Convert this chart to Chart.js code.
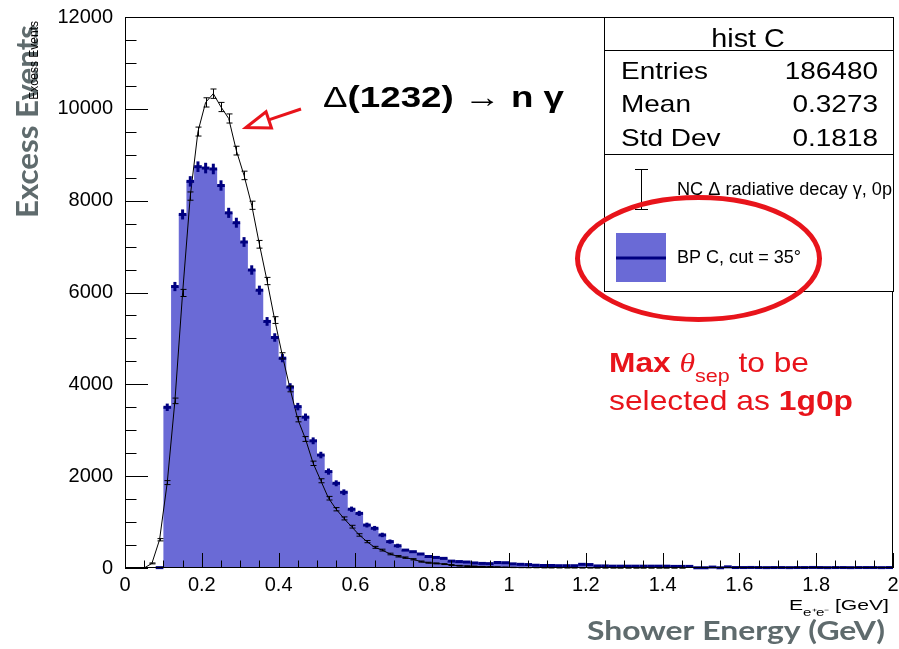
<!DOCTYPE html>
<html><head><meta charset="utf-8">
<script src="https://cdn.jsdelivr.net/npm/chart.js@4.4.1/dist/chart.umd.min.js"></script>
<style>html,body{margin:0;padding:0;background:#fff;overflow:hidden}canvas{display:block}</style>
</head><body>
<canvas id="c" width="899" height="649"></canvas>
<script>
// ---- data ----
const energyBinCenters = [0.01,0.03,0.05,0.07,0.09,0.11,0.13,0.15,0.17,0.19,0.21,0.23,0.25,0.27,0.29,0.31,0.33,0.35,0.37,0.39,
0.41,0.43,0.45,0.47,0.49,0.51,0.53,0.55,0.57,0.59,0.61,0.63,0.65,0.67,0.69,0.71,0.73,0.75,0.77,0.79,
0.81,0.83,0.85,0.87,0.89,0.91,0.93,0.95,0.97,0.99,1.01,1.03,1.05,1.07,1.09,1.11,1.13,1.15,1.17,1.19,
1.21,1.23,1.25,1.27,1.29,1.31,1.33,1.35,1.37,1.39,1.41,1.43,1.45,1.47,1.49,1.51,1.53,1.55,1.57,1.59,
1.61,1.63,1.65,1.67,1.69,1.71,1.73,1.75,1.77,1.79,1.81,1.83,1.85,1.87,1.89,1.91,1.93,1.95,1.97,1.99];
const binWidth = 0.02;
const bpC = [0,0,0,0,8,3500,6130,7700,8420,8740,8710,8690,8330,7735,7520,7100,6490,6050,5370,5020,
4570,3940,3515,3285,2770,2460,2100,1845,1650,1280,1190,935,865,720,575,485,390,355,305,250,
230,210,150,140,130,110,100,95,120,115,90,80,75,60,55,55,50,50,50,80,
75,45,45,40,40,40,40,40,40,40,40,35,35,35,5,5,20,5,25,10,
10,12,10,8,10,10,8,10,10,12,10,8,10,10,8,10,10,10,8,10];
const ncDelta = [0,0,0,100,615,1860,3640,5990,8100,9505,10140,10330,10040,9790,9090,8550,7900,7050,6250,5400,
4620,3900,3240,2810,2280,1900,1520,1280,1080,900,720,575,450,390,305,255,225,190,140,115,
100,85,65,50,40,35,30,25,20,15,12,10,8,8,6,5,5,4,4,3,
3,2,2,2,1,1,1,1,1,1,1,1,1,0,0,0,0,0,0,0,
0,0,0,0,0,0,0,0,0,0,0,0,0,0,0,0,0,0,0,0];
const xTickValues = [0,0.2,0.4,0.6,0.8,1,1.2,1.4,1.6,1.8,2];
const yTickValues = [0,2000,4000,6000,8000,10000,12000];
const statsTitle = 'hist C';
const statsLabels = ['Entries','Mean','Std Dev'];
const statsValues = ['186480','0.3273','0.1818'];
const legendLabels = ['NC \u0394 radiative decay \u03b3, 0p','BP C, cut = 35\u00b0'];

const FONT = '"Liberation Sans", Arial, Helvetica, sans-serif';
const BLUE = '#6a6ad6';
const NAVY = '#000080';
const RED = '#e8141b';
const GRAY = '#5f6b6d';

// ---- datasets built from the arrays ----
const ncPoints = energyBinCenters.map((x,i)=>({x:x, y:ncDelta[i]}));
const bpSteps = energyBinCenters.map((x,i)=>({x:x-binWidth/2, y:bpC[i]}));
bpSteps.push({x: energyBinCenters[energyBinCenters.length-1]+binWidth/2, y: bpC[bpC.length-1]});

function drawSegs(ctx, segs, x, y, o){
  ctx.save();
  let total = 0;
  for (const s of segs){ ctx.font = s.f; s.w = ctx.measureText(s.t).width; total += s.w; }
  const sx = o.width ? o.width/total : (o.sx || 1);
  ctx.translate(x, y);
  if (o.rot) ctx.rotate(o.rot);
  ctx.scale(sx, 1);
  let p = o.align==='right' ? -total : (o.align==='center' ? -total/2 : 0);
  ctx.textAlign = 'left'; ctx.textBaseline = 'alphabetic';
  for (const s of segs){ ctx.font = s.f; ctx.fillStyle = s.c || o.color || '#000'; ctx.fillText(s.t, p, s.dy||0); p += s.w; }
  ctx.restore();
}

const rootDecor = {
  id: 'rootDecor',
  beforeDraw(chart){
    const ctx = chart.ctx;
    ctx.save(); ctx.fillStyle = '#fff'; ctx.fillRect(0,0,chart.width,chart.height); ctx.restore();
  },
  afterDatasetsDraw(chart){
    const ctx = chart.ctx, xs = chart.scales.x, ys = chart.scales.y;
    ctx.save();
    // blue histogram error crosses
    ctx.strokeStyle = NAVY; ctx.lineWidth = 3; ctx.lineCap = 'butt';
    energyBinCenters.forEach((c,i)=>{
      const v = bpC[i]; if (v <= 0) return;
      const e = Math.sqrt(v);
      const xl = xs.getPixelForValue(c-binWidth/2), xr = xs.getPixelForValue(c+binWidth/2), xc = xs.getPixelForValue(c);
      const yv = ys.getPixelForValue(v);
      ctx.beginPath(); ctx.moveTo(xl, yv); ctx.lineTo(xr, yv); ctx.stroke();
      const y1 = ys.getPixelForValue(v+e), y2 = ys.getPixelForValue(Math.max(0,v-e));
      if (y2 - y1 > 2){ ctx.beginPath(); ctx.moveTo(xc, y1-1); ctx.lineTo(xc, y2+1); ctx.stroke(); }
    });
    // black error bars with caps
    ctx.strokeStyle = '#000'; ctx.lineWidth = 1;
    energyBinCenters.forEach((c,i)=>{
      const v = ncDelta[i]; if (v <= 0) return;
      const e = Math.sqrt(v);
      const xc = Math.round(xs.getPixelForValue(c))+0.5;
      const y1 = ys.getPixelForValue(v+e), y2 = ys.getPixelForValue(Math.max(0,v-e));
      ctx.beginPath(); ctx.moveTo(xc, y1); ctx.lineTo(xc, y2);
      ctx.moveTo(xc-3, y1); ctx.lineTo(xc+3, y1);
      ctx.moveTo(xc-3, y2); ctx.lineTo(xc+3, y2);
      ctx.stroke();
    });
    ctx.restore();
  },
  afterDraw(chart){
    const ctx = chart.ctx, xs = chart.scales.x, ys = chart.scales.y, a = chart.chartArea;
    ctx.save();
    // frame
    ctx.strokeStyle = '#000'; ctx.lineWidth = 1;
    ctx.strokeRect(a.left+0.5, a.top+0.5, a.right-a.left-1, a.bottom-a.top-1);
    // y ticks (inside)
    ctx.beginPath();
    for (let v = 0; v <= 12000; v += 500){
      const y = Math.round(ys.getPixelForValue(v))+0.5;
      const len = (v % 2000 === 0) ? 23 : 11.5;
      ctx.moveTo(a.left, y); ctx.lineTo(a.left+len, y);
    }
    // x ticks (inside)
    for (let k = 0; k <= 40; k++){
      const v = k*0.05;
      const x = Math.round(xs.getPixelForValue(v))+0.5;
      const len = (k % 4 === 0) ? 15 : 7.5;
      ctx.moveTo(x, a.bottom); ctx.lineTo(x, a.bottom-len);
    }
    ctx.stroke();

    // stats box
    const bx0 = 604, bx1 = 894, by0 = 17, by1 = 292;
    ctx.fillStyle = '#fff'; ctx.fillRect(bx0, by0, bx1-bx0, by1-by0);
    ctx.strokeStyle = '#000'; ctx.lineWidth = 1;
    ctx.strokeRect(bx0+0.5, by0+0.5, bx1-bx0-1, by1-by0-1);
    ctx.beginPath(); ctx.moveTo(bx0, 50.5); ctx.lineTo(bx1, 50.5); ctx.moveTo(bx0, 154.5); ctx.lineTo(bx1, 154.5); ctx.stroke();
    drawSegs(ctx, [{t:statsTitle, f:'25px '+FONT}], 748, 47, {align:'center', sx:1.15});
    const rowsY = [79, 112, 146];
    statsLabels.forEach((l,i)=>{
      drawSegs(ctx, [{t:l, f:'24px '+FONT}], 621, rowsY[i], {align:'left', sx:1.165});
      drawSegs(ctx, [{t:statsValues[i], f:'24px '+FONT}], 878, rowsY[i], {align:'right', sx:1.165});
    });
    // legend entries
    ctx.beginPath();
    ctx.moveTo(641.5, 169); ctx.lineTo(641.5, 210);
    ctx.moveTo(635, 169.5); ctx.lineTo(648, 169.5);
    ctx.moveTo(635, 209.5); ctx.lineTo(648, 209.5);
    ctx.stroke();
    ctx.save();
    ctx.beginPath(); ctx.rect(bx0, 155, bx1-bx0-1, 136); ctx.clip();
    drawSegs(ctx, [{t:legendLabels[0], f:'18px '+FONT}], 677, 195, {align:'left', width:215});
    ctx.restore();
    ctx.fillStyle = BLUE; ctx.fillRect(616, 233, 50, 49);
    ctx.strokeStyle = NAVY; ctx.lineWidth = 3;
    ctx.beginPath(); ctx.moveTo(616, 258); ctx.lineTo(666, 258); ctx.stroke();
    drawSegs(ctx, [{t:legendLabels[1], f:'18px '+FONT}], 677, 263, {align:'left', width:124});

    // ROOT axis titles
    drawSegs(ctx, [{t:'Excess Events', f:'bold 31px Lato, "Open Sans", sans-serif'}], 38, 218, {rot:-Math.PI/2, width:193, color:GRAY});
    drawSegs(ctx, [{t:'Excess Events', f:'12px '+FONT}], 38, 21, {rot:-Math.PI/2, align:'right', sx:1, color:'#000'});
    drawSegs(ctx, [{t:'E', f:'14px '+FONT}, {t:'e\u207ae\u207b', f:'10px '+FONT, dy:6}, {t:' [GeV]', f:'14px '+FONT}], 889, 610, {align:'right', width:100, color:'#000'});
    drawSegs(ctx, [{t:'Shower Energy (GeV)', f:'bold 27px Lato, "Open Sans", sans-serif'}], 587, 640, {align:'left', width:298, color:GRAY});

    // annotation: Delta(1232) -> n gamma
    drawSegs(ctx, [
      {t:'\u0394', f:'30px '+FONT},
      {t:'(1232) ', f:'bold 30px '+FONT},
      {t:'\u2192', f:'30px '+FONT},
      {t:' n ', f:'bold 30px '+FONT},
      {t:'\u03b3', f:'bold 30px '+FONT}
    ], 323, 106.5, {align:'left', width:241, color:'#000'});
    // red arrow
    const sxp = 301, syp = 109, tx = 246, ty = 127.5;
    const dx = tx - sxp, dy = ty - syp, L = Math.hypot(dx, dy), ux = dx/L, uy = dy/L, nx = -uy, ny = ux;
    const hl = 24, hw = 8.5, bcx = tx - ux*hl, bcy = ty - uy*hl;
    ctx.strokeStyle = RED; ctx.lineWidth = 3; ctx.lineJoin = 'miter';
    ctx.beginPath(); ctx.moveTo(sxp, syp); ctx.lineTo(bcx, bcy); ctx.stroke();
    ctx.beginPath(); ctx.moveTo(tx, ty); ctx.lineTo(bcx+nx*hw, bcy+ny*hw); ctx.lineTo(bcx-nx*hw, bcy-ny*hw); ctx.closePath();
    ctx.fillStyle = '#fff'; ctx.fill(); ctx.stroke();
    // red ellipse
    ctx.lineWidth = 5;
    ctx.beginPath(); ctx.ellipse(698.5, 258.5, 121, 61, 0, 0, Math.PI*2); ctx.stroke();
    // red text
    drawSegs(ctx, [
      {t:'Max', f:'bold 28px '+FONT},
      {t:' ', f:'28px '+FONT},
      {t:'\u03b8', f:'italic 28px "Liberation Serif", serif'},
      {t:'sep', f:'19px '+FONT, dy:10},
      {t:' to be', f:'28px '+FONT}
    ], 609, 372, {align:'left', width:200, color:RED});
    drawSegs(ctx, [
      {t:'selected as ', f:'28px '+FONT},
      {t:'1g0p', f:'bold 28px '+FONT}
    ], 609, 410, {align:'left', width:244, color:RED});
    ctx.restore();
  }
};

new Chart(document.getElementById('c'), {
  type: 'line',
  data: {
    datasets: [
      { label: legendLabels[0], data: ncPoints, borderColor: '#000', borderWidth: 1, pointRadius: 0, fill: false, tension: 0 },
      { label: legendLabels[1], data: bpSteps, stepped: 'before', borderColor: 'rgba(0,0,0,0)', borderWidth: 0, backgroundColor: BLUE, pointRadius: 0, fill: 'origin' }
    ]
  },
  options: {
    responsive: false, animation: false, devicePixelRatio: 1,
    layout: { padding: { left: 0, right: 6, top: 17, bottom: 0 } },
    plugins: { legend: { display: false }, tooltip: { enabled: false } },
    scales: {
      x: {
        type: 'linear', min: 0, max: 2,
        grid: { display: false, drawTicks: false }, border: { display: false },
        afterBuildTicks: s => { s.ticks = xTickValues.map(v => ({ value: v })); },
        afterFit: s => { s.height = 81; s.paddingLeft = 0; s.paddingRight = 0; },
        ticks: { padding: 5, color: '#000', font: { family: '"Liberation Sans", Arial, sans-serif', size: 20 }, maxRotation: 0, autoSkip: false,
          callback: v => (Number.isInteger(v) ? String(v) : v.toFixed(1)) }
      },
      y: {
        min: 0, max: 12000,
        grid: { display: false, drawTicks: false }, border: { display: false },
        afterBuildTicks: s => { s.ticks = yTickValues.map(v => ({ value: v })); },
        afterFit: s => { s.width = 125; s.paddingTop = 0; s.paddingBottom = 0; },
        ticks: { padding: 12, color: '#000', font: { family: '"Liberation Sans", Arial, sans-serif', size: 20 }, callback: v => String(v) }
      }
    }
  },
  plugins: [rootDecor]
});
</script>
</body></html>
